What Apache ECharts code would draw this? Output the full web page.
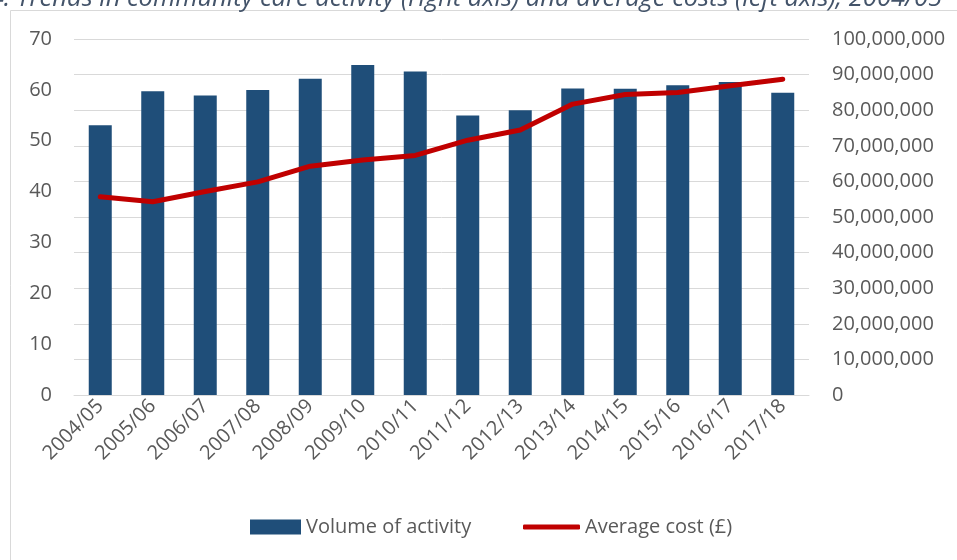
<!DOCTYPE html>
<html>
<head>
<meta charset="utf-8">
<script src="https://cdn.jsdelivr.net/npm/echarts@6/dist/echarts.min.js"></script>
<style>
  html, body { margin: 0; padding: 0; background: #fff; }
  #chart { width: 957px; height: 560px; }
</style>
</head>
<body>
<div id="chart"></div>
<script>
// categories and values
const years = ['2004/05', '2005/06', '2006/07', '2007/08', '2008/09', '2009/10', '2010/11',
  '2011/12', '2012/13', '2013/14', '2014/15', '2015/16', '2016/17', '2017/18'];
// volume of activity (right axis)
const volume = [75800000, 85300000, 84100000, 85700000, 88800000, 92700000, 90900000,
  78500000, 80000000, 86100000, 86000000, 87000000, 87900000, 84900000];
// average cost in £ (left axis)
const avgCost = [39.0, 38.0, 40.0, 41.9, 45.0, 46.2, 47.1, 50.1, 52.1, 57.2, 59.1, 59.5, 60.8, 62.1];

const titleText = 'Figure 14: Trends in community care activity (right axis) and average costs (left axis), 2004/05';

const font = 'Open Sans';
const txt = '#595959';
const fs = 20;

const chart = echarts.init(document.getElementById('chart'));
chart.setOption({
  animation: false,
  textStyle: { fontFamily: font },
  graphic: [
    {
      type: 'rect',
      shape: { x: 10.5, y: 10.5, width: 960, height: 560 },
      style: { fill: 'none', stroke: '#d9d9d9', lineWidth: 1 }
    },
    {
      type: 'text',
      x: 942, y: 12,
      style: {
        text: titleText, font: 'italic 25.5px "Open Sans"', fill: '#44546a',
        align: 'right', verticalAlign: 'bottom'
      }
    }
  ],
  legend: [
    {
      left: 250, top: 517, padding: 0,
      itemWidth: 51, itemHeight: 15, itemGap: 5,
      textStyle: { color: txt, fontSize: fs, fontFamily: font },
      data: [{ name: 'Volume of activity', icon: 'rect' }]
    },
    {
      left: 523, top: 517, padding: 0,
      itemWidth: 57, itemHeight: 5, itemGap: 5,
      textStyle: { color: txt, fontSize: fs, fontFamily: font },
      data: [{ name: 'Average cost (£)', icon: 'roundRect' }]
    }
  ],
  grid: { left: 74, right: 148, top: 39, bottom: 165 },
  xAxis: {
    type: 'category',
    data: years,
    axisTick: { show: false },
    axisLine: { lineStyle: { color: '#d9d9d9', width: 1 } },
    axisLabel: { color: txt, fontSize: fs, rotate: 45, margin: 8, interval: 0 }
  },
  yAxis: [
    {
      type: 'value',
      min: 0, max: 70, interval: 10,
      position: 'left',
      splitLine: { show: false },
      axisLine: { show: false },
      axisTick: { show: false },
      axisLabel: { color: txt, fontSize: fs, margin: 22 }
    },
    {
      type: 'value',
      min: 0, max: 100000000, interval: 10000000,
      position: 'right',
      splitLine: { lineStyle: { color: '#d9d9d9', width: 1 } },
      axisLine: { show: false },
      axisTick: { show: false },
      axisLabel: {
        color: txt, fontSize: fs, margin: 23,
        formatter: v => v.toLocaleString('en-GB')
      }
    }
  ],
  series: [
    {
      name: 'Volume of activity',
      type: 'bar',
      yAxisIndex: 1,
      data: volume,
      barWidth: 23,
      itemStyle: { color: '#1f4e79' }
    },
    {
      name: 'Average cost (£)',
      type: 'line',
      yAxisIndex: 0,
      data: avgCost,
      symbol: 'none',
      lineStyle: { color: '#c00000', width: 5, cap: 'round', join: 'round' },
      itemStyle: { color: '#c00000' }
    }
  ]
});
</script>
</body>
</html>
